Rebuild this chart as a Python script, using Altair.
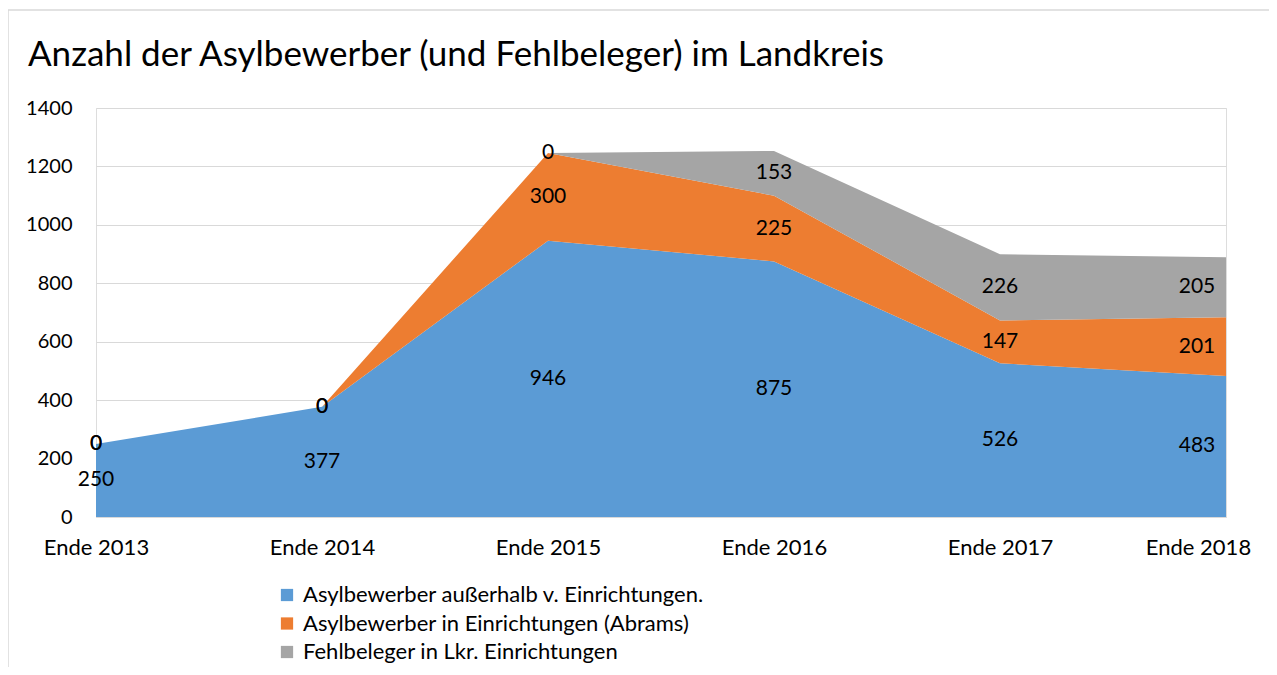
import altair as alt
import pandas as pd

years = ["Ende 2013", "Ende 2014", "Ende 2015", "Ende 2016", "Ende 2017", "Ende 2018"]
series = ["Asylbewerber außerhalb v. Einrichtungen.",
          "Asylbewerber in Einrichtungen (Abrams)",
          "Fehlbeleger in Lkr. Einrichtungen"]
blue = [250, 377, 946, 875, 526, 483]
orange = [0, 0, 300, 225, 147, 201]
gray = [0, 0, 0, 153, 226, 205]
colors = ["#5B9BD5", "#ED7D31", "#A5A5A5"]

rows = []
for i, s in enumerate(series):
    vals = [blue, orange, gray][i]
    for j, y in enumerate(years):
        rows.append({"year": y, "series": s, "value": vals[j], "ord": i, "yi": j})
df = pd.DataFrame(rows)

FONT = "Lato"

x = alt.X("year:O", sort=years, scale=alt.Scale(type="point", padding=0),
          axis=alt.Axis(title=None, labelAngle=0, labelFontSize=22, labelColor="#000",
                        labelFont=FONT, ticks=False, domainColor="#d9d9d9",
                        labelPadding=20,
                        labelOffset={"condition": {"test": "datum.value == 'Ende 2018'",
                                                   "value": -28}, "value": 0}))

area = alt.Chart(df).mark_area(opacity=1).encode(
    x=x,
    y=alt.Y("value:Q", stack="zero",
            scale=alt.Scale(domain=[0, 1400]),
            axis=alt.Axis(title=None, values=[0, 200, 400, 600, 800, 1000, 1200, 1400],
                          format="d",
                          labelFontSize=20, labelColor="#000", labelFont=FONT,
                          ticks=False, domain=False, gridColor="#d9d9d9",
                          labelPadding=24)),
    color=alt.Color("series:N", sort=series,
                    scale=alt.Scale(domain=series, range=colors),
                    legend=alt.Legend(title=None, orient="none", legendX=180, legendY=476,
                                      direction="vertical", symbolType="square",
                                      symbolSize=150, symbolStrokeWidth=0,
                                      labelFontSize=22, labelFont=FONT, labelColor="#000",
                                      labelOffset=5, rowPadding=6.5, labelLimit=700)),
    order=alt.Order("ord:Q"),
)

base_text = alt.Chart(df).transform_stack(
    stack="value", groupby=["year"], as_=["v0", "v1"], sort=[alt.SortField("ord")]
).transform_calculate(mid="(datum.v0 + datum.v1) / 2")

text_main = base_text.transform_filter("datum.yi < 5").mark_text(
    fontSize=21, font=FONT, color="#000").encode(
    x=alt.X("year:O", sort=years), y=alt.Y("mid:Q"), text="value:Q")
text_last = base_text.transform_filter("datum.yi == 5").mark_text(
    fontSize=21, font=FONT, color="#000", dx=-29).encode(
    x=alt.X("year:O", sort=years), y=alt.Y("mid:Q"), text="value:Q")

# decorative outer frame (top and left edges, as in the reference)
frame_df = pd.DataFrame({"k": [0]})
frame_top = alt.Chart(frame_df).mark_rule(color="#d9d9d9", strokeWidth=1.5).encode(
    x=alt.value(-88), x2=alt.value(1173), y=alt.value(-98))
frame_left = alt.Chart(frame_df).mark_rule(color="#d9d9d9", strokeWidth=1.5).encode(
    x=alt.value(-88), y=alt.value(-98), y2=alt.value(559))

chart = alt.layer(area, text_main, text_last, frame_top, frame_left).properties(
    width=1130, height=409,
    title=alt.TitleParams("Anzahl der Asylbewerber (und Fehlbeleger) im Landkreis",
                          anchor="start", frame="group", fontSize=35, font=FONT,
                          fontWeight="normal", color="#000", dx=-68, offset=-64),
    autosize=alt.AutoSizeParams(type="none"),
    padding={"left": 88, "top": 100, "right": 43, "bottom": 150},
).configure_view(stroke=None).configure(background="white")

chart.save("out.html", embed_options={"renderer": "svg", "actions": False})
